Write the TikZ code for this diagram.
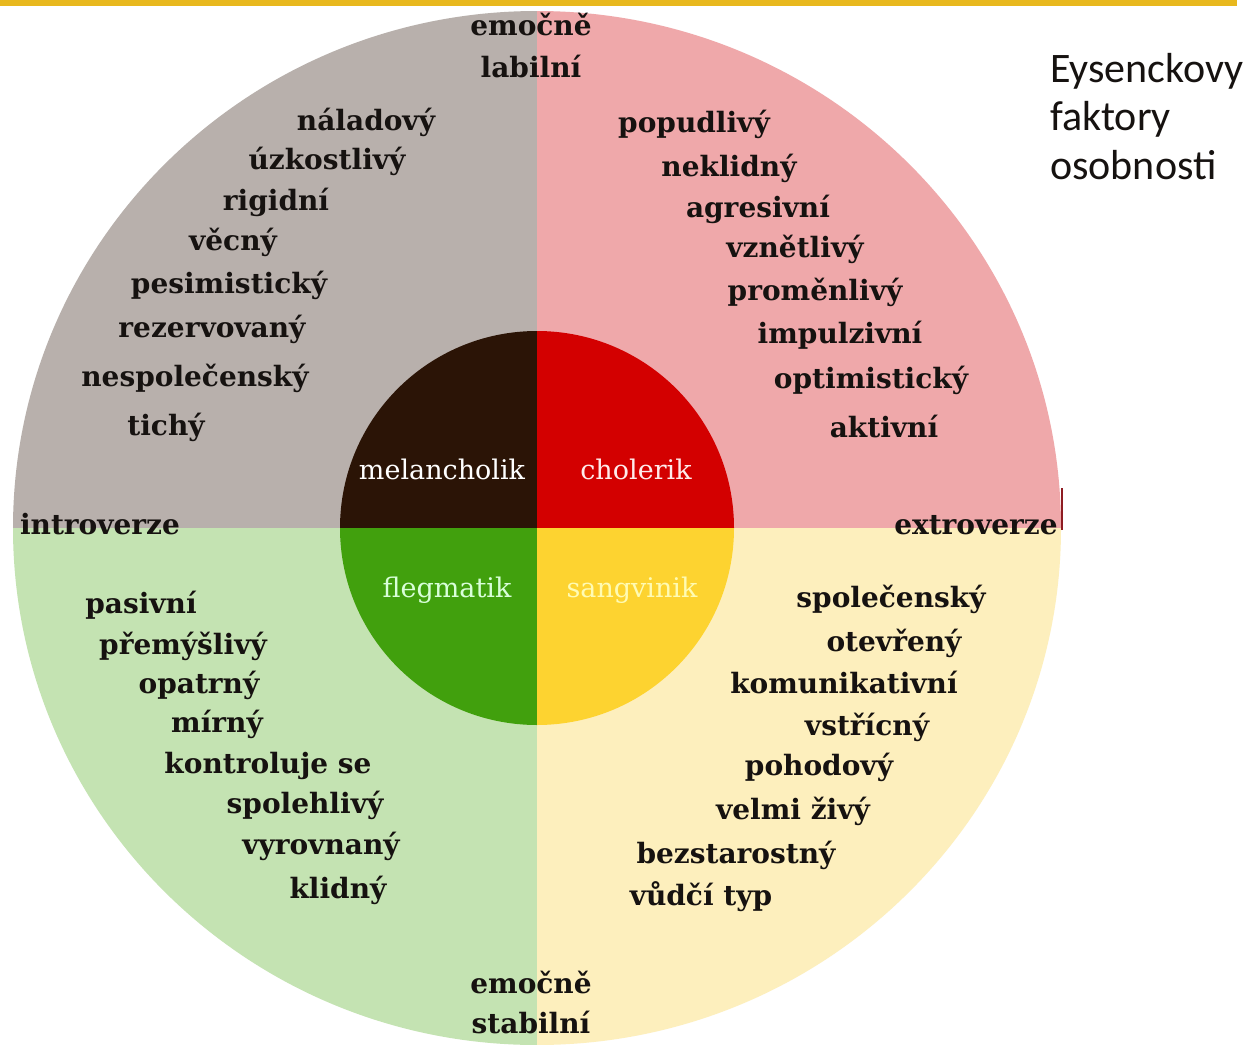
\documentclass[tikz,border=0pt]{standalone}
\usepackage{fontspec}
\setmainfont{DejaVu Serif}
\newfontfamily\titlefont{Carlito}
\definecolor{qgray}{HTML}{B8B0AC}
\definecolor{qpink}{HTML}{EFA8AA}
\definecolor{qgreen}{HTML}{C4E3B2}
\definecolor{qyellow}{HTML}{FDEFBD}
\definecolor{cbrown}{HTML}{2B1406}
\definecolor{cred}{HTML}{D30000}
\definecolor{cgreen}{HTML}{41A00D}
\definecolor{cyellow}{HTML}{FDD330}
\definecolor{goldbar}{HTML}{E8B81E}
\definecolor{ink}{HTML}{161210}
\definecolor{edgered}{HTML}{8E1C22}
\tikzset{
  trait/.style={font=\fontsize{28}{33}\selectfont\bfseries, text=ink,
    inner sep=0pt, text height=14.5pt, text depth=0pt, anchor=center},
  temper/.style={font=\fontsize{27}{32}\selectfont, inner sep=0pt,
    text height=14pt, text depth=0pt, anchor=center},
  heading/.style={font=\titlefont\fontsize{42}{50}\selectfont, text=ink,
    inner sep=0pt, anchor=base west}
}
\begin{document}
\begin{tikzpicture}[x=1pt,y=-1pt]
\useasboundingbox (0,0) rectangle (1250,1044);
\fill[white] (0,0) rectangle (1250,1044);
% gold rule along the top
\fill[goldbar] (0,0) rectangle (1237,6);
% outer disc split into four quadrants
\begin{scope}
  \clip (537,528) ellipse [x radius=524pt, y radius=517pt];
  \fill[qgray]   (0,0)     rectangle (537,528);
  \fill[qpink]   (537,0)   rectangle (1250,528);
  \fill[qgreen]  (0,528)   rectangle (537,1100);
  \fill[qyellow] (537,528) rectangle (1250,1100);
\end{scope}
\draw[edgered, line width=2pt] (1062,488) -- (1062,530);
% inner disc of the four temperaments
\begin{scope}
  \clip (537,528) circle [radius=197pt];
  \fill[cbrown]  (300,300) rectangle (537,528);
  \fill[cred]    (537,300) rectangle (760,528);
  \fill[cgreen]  (300,528) rectangle (537,760);
  \fill[cyellow] (537,528) rectangle (760,760);
\end{scope}
\node[temper, text=white]        (melan)  at (442,472) {melancholik};
\node[temper, text=white!92!red] (chol)   at (636,472) {cholerik};
\node[temper, text=green!15!white] (fleg) at (447,590) {flegmatik};
\node[temper, text=yellow!30!white] (sang) at (632,590) {sangvinik};
% axis labels
\node[trait] (labA) at (531,28) {emočně};
\node[trait] (labB) at (531,70) {labilní};
\node[trait] (stabA) at (531,986) {emočně};
\node[trait] (stabB) at (531,1026) {stabilní};
\node[trait] (intro) at (100,527) {introverze};
\node[trait] (extro) at (976,527) {extroverze};
% melancholic traits
\node[trait] (m1) at (366,123) {náladový};
\node[trait] (m2) at (327,162) {úzkostlivý};
\node[trait] (m3) at (276,203) {rigidní};
\node[trait] (m4) at (233,243) {věcný};
\node[trait] (m5) at (229,286) {pesimistický};
\node[trait] (m6) at (212,330) {rezervovaný};
\node[trait] (m7) at (195,379) {nespolečenský};
\node[trait] (m8) at (166,428) {tichý};
% choleric traits
\node[trait] (c1) at (694,125) {popudlivý};
\node[trait] (c2) at (729,169) {neklidný};
\node[trait] (c3) at (758,210) {agresivní};
\node[trait] (c4) at (795,250) {vznětlivý};
\node[trait] (c5) at (815,293) {proměnlivý};
\node[trait] (c6) at (840,336) {impulzivní};
\node[trait] (c7) at (871,381) {optimistický};
\node[trait] (c8) at (884,430) {aktivní};
% phlegmatic traits
\node[trait] (f1) at (141,606) {pasivní};
\node[trait] (f2) at (183,647) {přemýšlivý};
\node[trait] (f3) at (199,686) {opatrný};
\node[trait] (f4) at (217,725) {mírný};
\node[trait] (f5) at (268,766) {kontroluje se};
\node[trait] (f6) at (305,806) {spolehlivý};
\node[trait] (f7) at (321,847) {vyrovnaný};
\node[trait] (f8) at (338,891) {klidný};
% sanguine traits
\node[trait] (s1) at (891,600) {společenský};
\node[trait] (s2) at (894,644) {otevřený};
\node[trait] (s3) at (844,686) {komunikativní};
\node[trait] (s4) at (867,728) {vstřícný};
\node[trait] (s5) at (819,768) {pohodový};
\node[trait] (s6) at (793,812) {velmi živý};
\node[trait] (s7) at (736,856) {bezstarostný};
\node[trait] (s8) at (701,898) {vůdčí typ};
% title
\node[heading] (t1) at (1050,82)  {Eysenckovy};
\node[heading] (t2) at (1050,130) {faktory};
\node[heading] (t3) at (1050,179) {osobnosti};
\end{tikzpicture}
\end{document}
